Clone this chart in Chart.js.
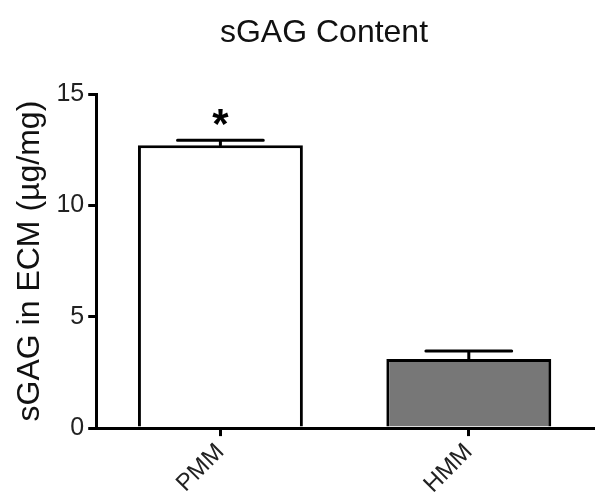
<!DOCTYPE html>
<html>
<head>
<meta charset="utf-8">
<script src="https://cdn.jsdelivr.net/npm/chart.js@4"></script>
<style>
  body { margin: 0; background: #fff; }
  #wrap { width: 601px; height: 502px; }
</style>
</head>
<body>
<div id="wrap"><canvas id="c" width="601" height="502"></canvas></div>
<script>
const groups = ['PMM', 'HMM']
const means = [12.7, 3.1]
const sems = [0.22, 0.36]
const marks = ['*', '']
const yTicks = [0, 5, 10, 15]

const FONT = "'Liberation Sans', Arial, Helvetica, sans-serif"

// error bars (upper only) + significance star
const errorBars = {
    id: 'errorBars',
    afterDatasetsDraw(chart) {
        const ctx = chart.ctx
        const y = chart.scales.y
        const meta = chart.getDatasetMeta(0)
        ctx.save()
        ctx.strokeStyle = '#000'
        ctx.lineWidth = 3
        ctx.lineCap = 'round'
        meta.data.forEach((bar, i) => {
            const top = y.getPixelForValue(means[i] + sems[i])
            const half = bar.width * 0.26
            ctx.beginPath()
            ctx.moveTo(bar.x, bar.y)
            ctx.lineTo(bar.x, top)
            ctx.moveTo(bar.x - half, top)
            ctx.lineTo(bar.x + half, top)
            ctx.stroke()
            if (marks[i]) {
                ctx.fillStyle = '#000'
                ctx.font = 'bold 42px ' + FONT
                ctx.textAlign = 'center'
                ctx.textBaseline = 'alphabetic'
                ctx.fillText(marks[i], bar.x, top - 2)
            }
        })
        ctx.restore()
    }
}

// the title sits a little right of the canvas centre in the original
const shiftTitle = {
    id: 'shiftTitle',
    afterLayout(chart) {
        const t = chart.titleBlock
        if (!t) return
        const dx = 324 - (t.left + t.right) / 2
        t.left += dx
        t.right += dx
    }
}

new Chart(document.getElementById('c'), {
    type: 'bar',
    data: {
        labels: groups,
        datasets: [{
            data: means,
            backgroundColor: ['#ffffff', '#777777'],
            borderColor: '#000',
            borderWidth: 3,
            borderSkipped: 'bottom',
            categoryPercentage: 1,
            barPercentage: 0.664
        }]
    },
    options: {
        responsive: false,
        animation: false,
        layout: { padding: { left: 4, right: 8, top: 4, bottom: 1 } },
        plugins: {
            legend: { display: false },
            tooltip: { enabled: false },
            title: {
                display: true,
                text: 'sGAG Content',
                color: '#111',
                font: { family: FONT, size: 32, weight: 'normal' },
                padding: { top: 10, bottom: 41.6 }
            }
        },
        scales: {
            x: {
                offset: true,
                border: { display: true, color: '#000', width: 3 },
                grid: {
                    display: true, drawOnChartArea: false, drawTicks: true,
                    offset: false, tickLength: 8, color: '#000', lineWidth: 3
                },
                ticks: {
                    color: '#222',
                    font: { family: FONT, size: 24 },
                    minRotation: 45, maxRotation: 45,
                    padding: 2
                }
            },
            y: {
                min: 0, max: 15,
                afterBuildTicks(scale) { scale.ticks = yTicks.map(v => ({ value: v })) },
                border: { display: true, color: '#000', width: 3 },
                grid: {
                    display: true, drawOnChartArea: false, drawTicks: true,
                    tickLength: 8, color: '#000', lineWidth: 3
                },
                ticks: {
                    color: '#222',
                    font: { family: FONT, size: 25 },
                    padding: 4
                },
                title: {
                    display: true,
                    text: 'sGAG in ECM (µg/mg)',
                    color: '#111',
                    font: { family: FONT, size: 32 },
                    padding: { top: 7, bottom: 3 }
                }
            }
        }
    },
    plugins: [errorBars, shiftTitle]
});
</script>
</body>
</html>
